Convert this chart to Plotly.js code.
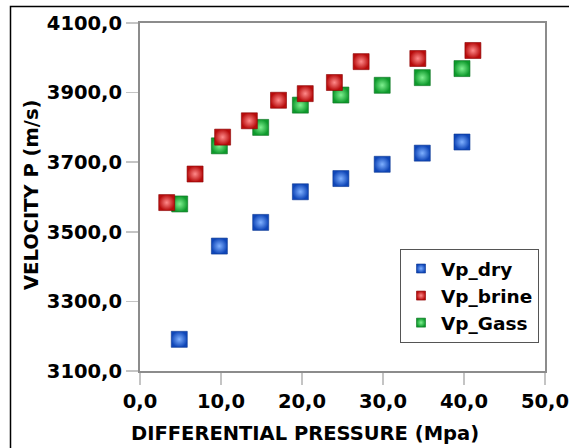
<!DOCTYPE html>
<html>
<head>
<meta charset="utf-8">
<script src="https://cdn.plot.ly/plotly-3.0.1.min.js"></script>
<style>html,body{margin:0;padding:0;background:#fff;}#chart{width:571px;height:448px;}</style>
</head>
<body>
<div id="chart"></div>
<script>
// Data
var dryX = [4.85, 9.8, 14.9, 19.8, 24.8, 29.9, 34.85, 39.75];
var dryY = [3191, 3459, 3527, 3615, 3653, 3694, 3726, 3758];
var brineX = [3.3, 6.8, 10.2, 13.5, 17.1, 20.4, 24.0, 27.3, 34.3, 41.1];
var brineY = [3584, 3666, 3772, 3819, 3878, 3897, 3929, 3989, 3998, 4021];
var gassX = [4.9, 9.8, 14.9, 19.8, 24.8, 29.9, 34.85, 39.75];
var gassY = [3580, 3747, 3800, 3864, 3893, 3921, 3943, 3969];
var seriesNames = ['Vp_dry', 'Vp_brine', 'Vp_Gass'];
var xTitle = 'DIFFERENTIAL PRESSURE (Mpa)';
var yTitle = 'VELOCITY P (m/s)';

var FONT = 'DejaVu Sans, Verdana, sans-serif';
var FS = 19.5;
var styles = {
  dry:   {edge: '#0f46b8', center: '#7fb0ff', line: '#0a3590'},
  brine: {edge: '#b80c0c', center: '#ff8a8a', line: '#8a0000'},
  gass:  {edge: '#0e9a2c', center: '#7ff090', line: '#0a7020'}
};
function mk(s, size) {
  return {symbol: 'square', size: size, color: s.edge,
          gradient: {type: 'radial', color: s.center},
          line: {color: s.line, width: 0.6}};
}
var traces = [
  {x: dryX, y: dryY, mode: 'markers', type: 'scatter', marker: mk(styles.dry, 16), showlegend: false},
  {x: gassX, y: gassY, mode: 'markers', type: 'scatter', marker: mk(styles.gass, 16), showlegend: false},
  {x: brineX, y: brineY, mode: 'markers', type: 'scatter', marker: mk(styles.brine, 16), showlegend: false},
  {x: [null], y: [null], mode: 'markers', type: 'scatter', name: seriesNames[0], marker: mk(styles.dry, 9)},
  {x: [null], y: [null], mode: 'markers', type: 'scatter', name: seriesNames[1], marker: mk(styles.brine, 9)},
  {x: [null], y: [null], mode: 'markers', type: 'scatter', name: seriesNames[2], marker: mk(styles.gass, 9)}
];

var L = 140, R = 26, T = 23, B = 77, W = 571, H = 448;
var pw = W - L - R, ph = H - T - B;
function px(x) { return (x - L) / pw; }
function py(y) { return (H - B - y) / ph; }

var axisCommon = {
  showline: true, mirror: true, linecolor: '#8c8c8c', linewidth: 2,
  ticks: 'outside', ticklen: 12, tickcolor: '#c4c4c4', tickwidth: 1.5,
  showgrid: false, zeroline: false, tickformat: '.1f',
  tickfont: {family: FONT, size: FS, color: '#000', weight: 'bold'}
};

var layout = {
  width: W, height: H,
  margin: {l: L, r: R, t: T, b: B},
  paper_bgcolor: '#fff', plot_bgcolor: '#fff',
  separators: ',.',
  font: {family: FONT, color: '#000'},
  xaxis: Object.assign({}, axisCommon, {range: [0, 50], dtick: 10, tick0: 0}),
  yaxis: Object.assign({}, axisCommon, {range: [3100, 4100], dtick: 200, tick0: 3100}),
  showlegend: true,
  legend: {
    x: px(400), y: py(249), xanchor: 'left', yanchor: 'top',
    bgcolor: '#fff', bordercolor: '#555', borderwidth: 1,
    font: {family: FONT, size: 18.5, color: '#000', weight: 'bold'},
    tracegroupgap: 0
  },
  annotations: [
    {text: '<b>' + xTitle + '</b>', xref: 'paper', yref: 'paper', x: px(305), y: py(433),
     xanchor: 'center', yanchor: 'middle', showarrow: false,
     font: {family: FONT, size: FS, color: '#000'}},
    {text: '<b>' + yTitle + '</b>', xref: 'paper', yref: 'paper', x: px(32), y: py(195),
     xanchor: 'center', yanchor: 'middle', showarrow: false, textangle: -90,
     font: {family: FONT, size: FS, color: '#000'}}
  ],
  shapes: [
    {type: 'path', xref: 'paper', yref: 'paper',
     path: 'M ' + px(10.5) + ' ' + py(448) + ' L ' + px(10.5) + ' ' + py(6.5) + ' L ' + px(569) + ' ' + py(6.5),
     line: {color: '#000', width: 1.5}}
  ]
};

Plotly.newPlot('chart', traces, layout, {displayModeBar: false, staticPlot: true});
</script>
</body>
</html>
